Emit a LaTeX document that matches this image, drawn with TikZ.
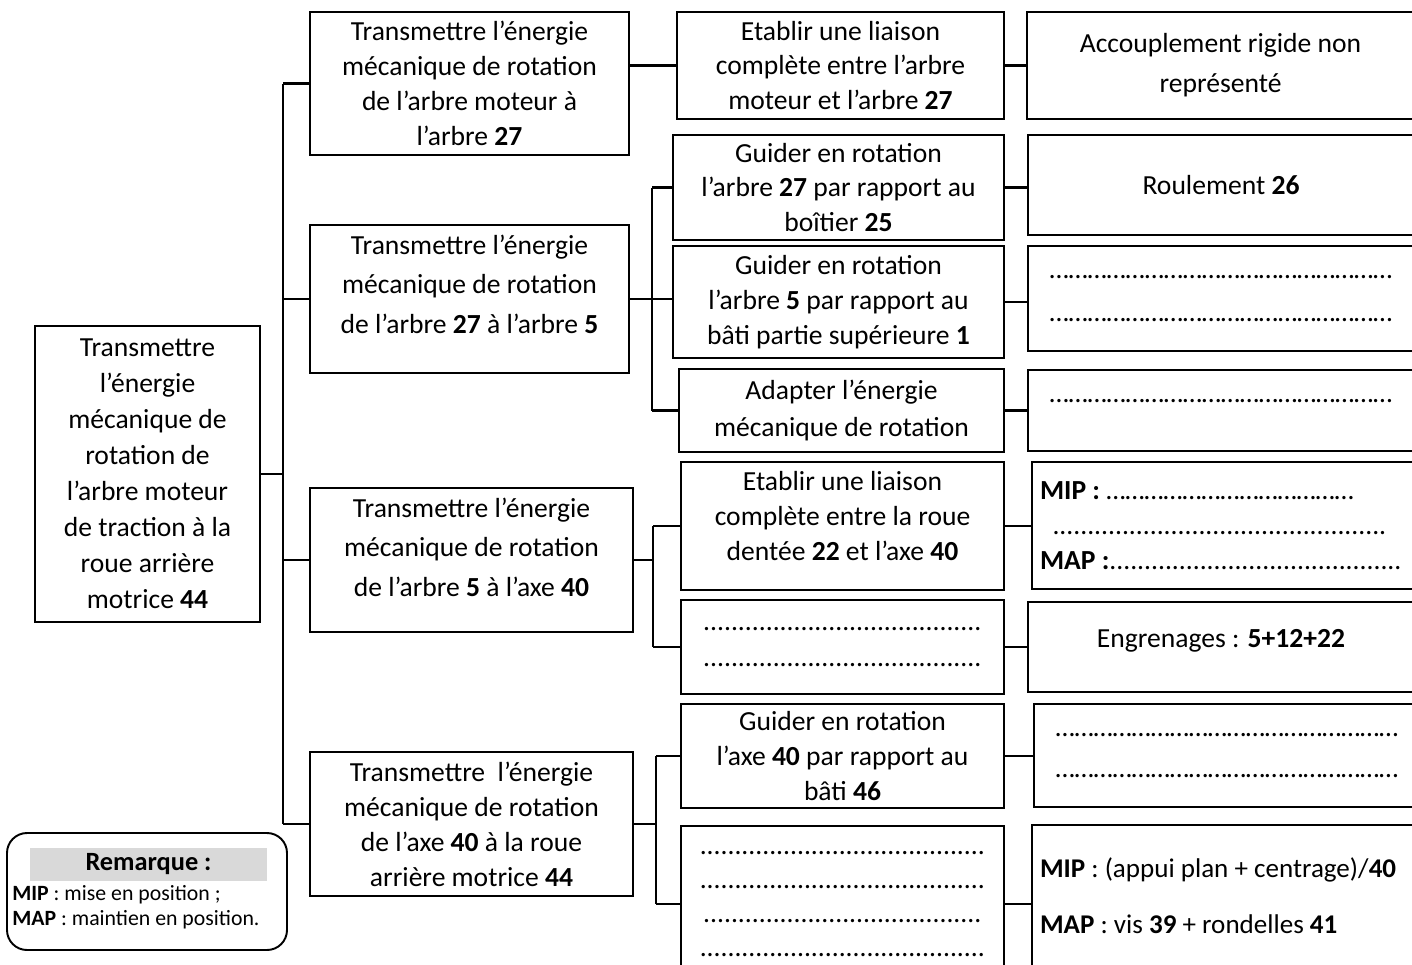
\documentclass[tikz,border=0pt]{standalone}
\usepackage{fontspec}
\setmainfont{Carlito}
\newcommand{\pts}[1]{\foreach \k in {1,...,#1}{.}}
\newcommand{\susp}[1]{\foreach \k in {1,...,#1}{…}}

\begin{document}
\begin{tikzpicture}[x=0.02cm, y=-0.02cm,
  every node/.style={font=\fontsize{15.7}{19.9}\selectfont},
  box/.style={draw, line width=1.4pt, align=center, inner sep=0pt, outer sep=0pt},
  wh/.style 2 args={minimum width=#1*0.02cm, minimum height=#2*0.02cm},
  airy/.style={font=\fontsize{15.7}{22.5}\selectfont},
  link/.style={line width=1.2pt}]
  \useasboundingbox (0,0) rectangle (1412,964);
  \clip (0,0) rectangle (1412,964);

  \node[box, wh={225}{296}, font=\fontsize{15.7}{20.5}\selectfont] (root) at (147.5,474)
    {Transmettre\\l’énergie\\mécanique de\\rotation de\\l’arbre moteur\\de traction à la\\roue arrière\\motrice \textbf{44}};

  \node[box, wh={319}{143}] (A1) at (469.5,83.5)
    {Transmettre l’énergie\\mécanique de rotation\\de l’arbre moteur à\\l’arbre \textbf{27}};
  \node[box, airy, wh={319}{148}] (A2) at (469.5,299)
    {Transmettre l’énergie\\mécanique de rotation\\de l’arbre \textbf{27} à l’arbre \textbf{5}\\[-0.19cm]};
  \node[box, airy, wh={323}{144}] (A3) at (471.5,560)
    {Transmettre l’énergie\\mécanique de rotation\\de l’arbre \textbf{5} à l’axe \textbf{40}\\[-0.27cm]};
  \node[box, wh={323}{144}] (A4) at (471.5,824)
    {Transmettre\ \ l’énergie\\mécanique de rotation\\de l’axe \textbf{40} à la roue\\arrière motrice \textbf{44}};

  \node[box, wh={327}{107}] (B1) at (840.5,65.5)
    {Etablir une liaison\\complète entre l’arbre\\moteur et l’arbre \textbf{27}};
  \node[box, wh={331}{105}] (B2) at (838.5,187.5)
    {Guider en rotation\\l’arbre \textbf{27} par rapport au\\boîtier \textbf{25}};
  \node[box, wh={331}{112}] (B3) at (838.5,302)
    {Guider en rotation\\l’arbre \textbf{5} par rapport au\\bâti partie supérieure \textbf{1}};
  \node[box, wh={325}{83}, font=\fontsize{15.7}{21.6}\selectfont] (B4) at (841.5,410.5)
    {Adapter l’énergie\\mécanique de rotation};
  \node[box, wh={323}{128}] (B5) at (842.5,526)
    {Etablir une liaison\\complète entre la roue\\dentée \textbf{22} et l’axe \textbf{40}\\[-0.28cm]};
  \node[box, wh={323}{94}, font=\fontsize{15.7}{21}\selectfont] (B6) at (842.5,647)
    {\pts{40}\\\pts{40}};
  \node[box, wh={323}{104}] (B7) at (842.5,756)
    {Guider en rotation\\l’axe \textbf{40} par rapport au\\bâti \textbf{46}};
  \node[box, wh={323}{156}, font=\fontsize{15.7}{19.4}\selectfont] (B8) at (842.5,904)
    {\pts{41}\\\pts{41}\\\pts{40}\\\pts{41}};

  \node[box, wh={387}{107}, font=\fontsize{15.7}{22.8}\selectfont] (C1) at (1220.5,65.5)
    {Accouplement rigide non\\représenté};
  \node[box, wh={386}{100}] (C2) at (1221,185) {Roulement \textbf{26}};
  \node[box, wh={386}{105}, font=\fontsize{15.7}{24.5}\selectfont] (C3) at (1221,298.5)
    {\susp{18}\\\susp{18}};
  \node[box, wh={386}{81}] (C4) at (1221,410.5) {\susp{18}\\[-0.3cm]};
  \node[box, wh={416}{127}, align=flush left, text width=8cm, inner xsep=8*0.02cm] (C5) at (1240,525.5)
    {\textbf{MIP :} \susp{13}\\\ \ \pts{48}\\\textbf{MAP :}\pts{42}};
  \node[box, wh={386}{90}] (C6) at (1221,647) {Engrenages : \textbf{5+12+22}\\[-0.34cm]};
  \node[box, wh={386}{103}, font=\fontsize{15.7}{22.8}\selectfont] (C7) at (1227,755.5)
    {\susp{18}\\\susp{18}};
  \node[box, wh={416}{142}, align=flush left, text width=8cm, inner xsep=7*0.02cm, font=\fontsize{15.4}{19.5}\selectfont] (C8) at (1240,896)
    {\textbf{MIP} : (appui plan + centrage)/\textbf{40}\\[0.44cm]\textbf{MAP} : vis \textbf{39} + rondelles \textbf{41}};

  \node[draw, line width=1.1pt, rounded corners=0.4cm, minimum width=280*0.02cm, minimum height=117*0.02cm] (rem) at (147,891.5) {};
  \node[fill=black!15, minimum width=237*0.02cm, minimum height=33*0.02cm, inner sep=0pt, font=\fontsize{15}{18}\selectfont\bfseries] (remtitre) at (148.5,864.5) {Remarque :};
  \node[anchor=west, inner sep=0pt, font=\fontsize{12.4}{14.4}\selectfont] (mip) at (12,895) {\textbf{MIP} : mise en position ;};
  \node[anchor=west, inner sep=0pt, font=\fontsize{12.4}{14.4}\selectfont] (map) at (12,920) {\textbf{MAP} : maintien en position.};

  \coordinate (trunk) at (283,0);
  \coordinate (brA2) at (652,0);
  \coordinate (brA3) at (653,0);
  \coordinate (brA4) at (656,0);

  \draw[link] (root.east) -- (root.east -| trunk);
  \draw[link] (A1.west -| trunk) -- (A4.west -| trunk);
  \foreach \n in {A1,A2,A3,A4}
    \draw[link] (\n.west) -- (\n.west -| trunk);

  \draw[link] (A1.east |- B1.west) -- (B1.west);
  \draw[link] (A2.east) -- (A2.east -| B3.west);
  \draw[link] (B2.west -| brA2) -- (B4.west -| brA2);
  \draw[link] (B2.west) -- (B2.west -| brA2);
  \draw[link] (B4.west) -- (B4.west -| brA2);
  \draw[link] (A3.east) -- (A3.east -| brA3);
  \draw[link] (B5.west -| brA3) -- (B6.west -| brA3);
  \draw[link] (B5.west) -- (B5.west -| brA3);
  \draw[link] (B6.west) -- (B6.west -| brA3);
  \draw[link] (A4.east) -- (A4.east -| brA4);
  \draw[link] (B7.west -| brA4) -- (B8.west -| brA4);
  \draw[link] (B7.west) -- (B7.west -| brA4);
  \draw[link] (B8.west) -- (B8.west -| brA4);

  \foreach \b/\c in {B1/C1,B2/C2,B3/C3,B4/C4,B5/C5,B6/C6,B7/C7,B8/C8}
    \draw[link] (\b.east) -- (\b.east -| \c.west);
\end{tikzpicture}
\end{document}
